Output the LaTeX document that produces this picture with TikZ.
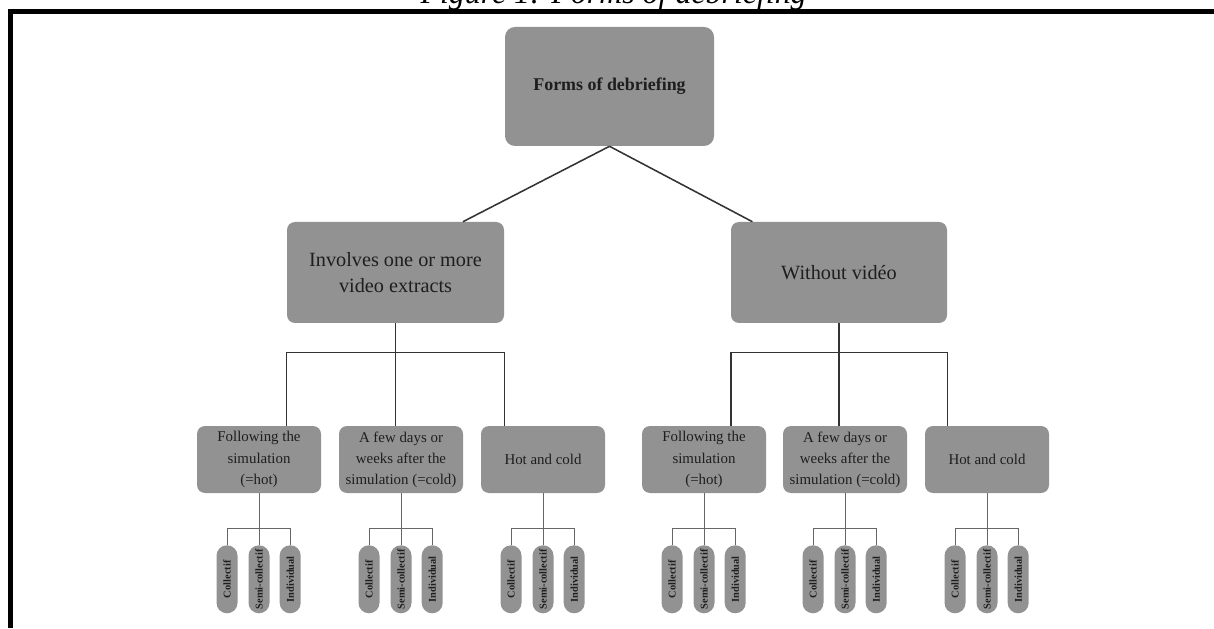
\documentclass[tikz,border=0pt]{standalone}
\usepackage{fontspec}
\setmainfont{Liberation Serif}
\usetikzlibrary{positioning,calc}

\definecolor{boxgray}{RGB}{146,146,146}
\definecolor{inkgray}{RGB}{30,30,30}

\begin{document}
\begin{tikzpicture}[
    box/.style={fill=boxgray, text=inkgray, rounded corners=0.2cm, align=center, inner sep=2pt},
    midbox/.style={box, minimum width=5.425cm, minimum height=2.525cm, font=\fontsize{14.4}{19}\selectfont},
    subbox/.style={box, minimum width=3.1cm, minimum height=1.675cm, font=\fontsize{10.6}{15}\selectfont},
    leaf/.style={box, rotate=90, rounded corners=0.26cm, minimum width=1.7cm, minimum height=0.525cm, inner sep=0pt, font=\fontsize{7.4}{8}\selectfont\bfseries},
    link/.style={draw=black!80, line width=1.1pt},
    twig/.style={draw=black!60, line width=0.6pt}
  ]

\useasboundingbox (0,0) rectangle (30.35,15.7);
\clip (0,0) rectangle (30.35,15.7);

% caption, cut off by the page edge
\node[anchor=base, font=\fontsize{22.7}{26}\selectfont\itshape] (CAP) at (15.34,15.61) {Figure 1: Forms of debriefing};

\draw[line width=3pt] (0.2625,0) -- (0.2625,15.4125) -- (30.35,15.4125);

\node[
    box,
    rounded corners=0.25cm,
    minimum width=5.225cm,
    minimum height=2.975cm,
    font=\fontsize{12.75}{15}\selectfont\bfseries
  ] (FD) at (15.2375, 13.5375) {Forms of debriefing};

\node[midbox] (VID) at (9.8875, 8.8875) {Involves one or more\\video extracts};
\node[midbox, minimum width=5.4cm] (NOV) at (20.975, 8.8875) {Without vidéo};

  \draw[link] (FD.south) -- ($ (VID.north west)!0.81!(VID.north east) $);
  \draw[link] (FD.south) -- ($ (NOV.north west)!0.10!(NOV.north east) $);

% third level
\node[subbox] (FH) at (6.475, 4.2125) {Following the\\simulation\\(=hot)};
\node[subbox] (FC) at (10.025, 4.2125) {A few days or\\weeks after the\\simulation (=cold)};
\node[subbox] (FB) at (13.575, 4.2125) {Hot and cold};
\node[subbox] (WH) at (17.6, 4.2125) {Following the\\simulation\\(=hot)};
\node[subbox] (WC) at (21.125, 4.2125) {A few days or\\weeks after the\\simulation (=cold)};
\node[subbox] (WB) at (24.675, 4.2125) {Hot and cold};

\coordinate (VIDbar) at ($ (VID.south) + (0,-0.725) $);
\coordinate (NOVbar) at ($ (NOV.south) + (0,-0.725) $);

  \draw[link] (VID.south) -- (FC.north -| VID.south);
  \draw[link] (FH.north -| VID.west) -- (VIDbar -| VID.west)
    -- (VIDbar -| VID.east) -- (FB.north -| VID.east);
  \draw[link] (NOV.south) -- (WC.north -| NOV.south);
  \draw[link] (WH.north -| NOV.west) -- (NOVbar -| NOV.west)
    -- (NOVbar -| NOV.east) -- (WB.north -| NOV.east);

% leaves
\foreach \s in {FH,FC,FB,WH,WC,WB} {
  \node[leaf] (\s-c) at ($ (\s.south) + (-0.8,-2.15) $) {Collectif};
  \node[leaf] (\s-s) at ($ (\s.south) + (0,-2.15) $) {Semi-collectif};
  \node[leaf] (\s-i) at ($ (\s.south) + (0.78,-2.15) $) {Individual};
  \draw[twig] (\s.south) -- (\s-s.east);
  \draw[twig] (\s-c.east) -- ++(0,0.425) -| (\s-i.east);
}

\end{tikzpicture}
\end{document}
